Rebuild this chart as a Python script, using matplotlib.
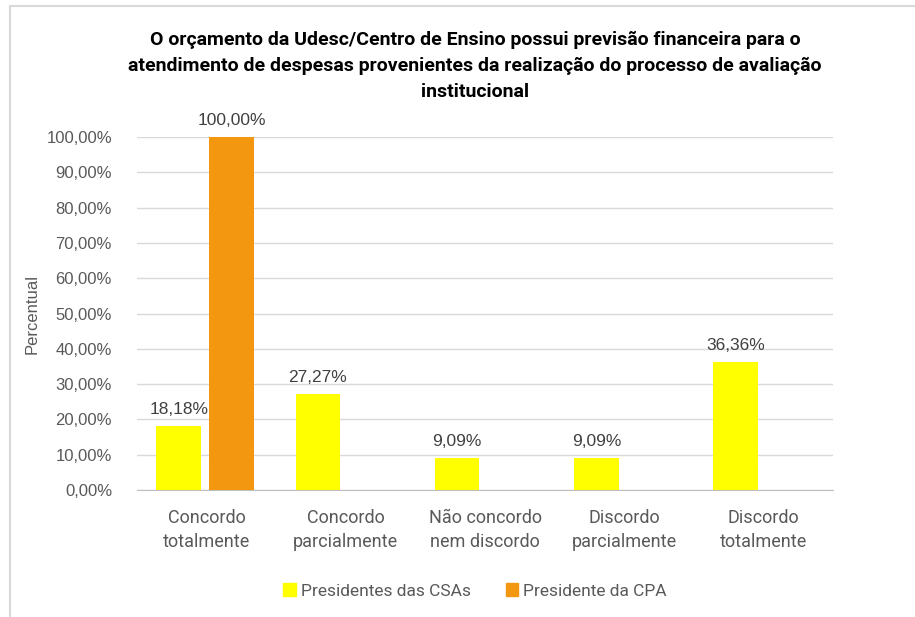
import matplotlib.pyplot as plt
import numpy as np
from matplotlib.patches import Patch
from matplotlib.lines import Line2D

categories = ['Concordo\ntotalmente', 'Concordo\nparcialmente', 'Não concordo\nnem discordo',
              'Discordo\nparcialmente', 'Discordo\ntotalmente']
csas = [18.18, 27.27, 9.09, 9.09, 36.36]
cpa = [100.00, 0, 0, 0, 0]
series_names = ['Presidentes das CSAs', 'Presidente da CPA']

narrow = ['Roboto', 'DejaVu Sans']
regular = ['Liberation Sans', 'DejaVu Sans']
grey = '#595959'

fig = plt.figure(figsize=(9.15, 6.17), dpi=100)
ax = fig.add_axes([137 / 915, 1 - 490 / 617, (833 - 137) / 915, (490 - 137) / 617])

x = np.arange(len(categories))
w = 0.32
b1 = ax.bar(x - 0.2, csas, w, color='#ffff00', zorder=3)
b2 = ax.bar(x + 0.18, cpa, w, color='#f39711', zorder=3)

def fmt(v):
    return f'{v:.2f}%'.replace('.', ',')

for rect, v in zip(b1, csas):
    ax.text(rect.get_x() + rect.get_width() / 2, v + 2.5, fmt(v), ha='center', va='bottom',
            fontsize=12.5, color='#404040', family=regular)
for rect, v in zip(b2, cpa):
    if v > 0:
        ax.text(rect.get_x() + rect.get_width() / 2, v + 2.5, fmt(v), ha='center', va='bottom',
                fontsize=12.5, color='#404040', family=regular)

ax.set_xlim(-0.5, len(categories) - 0.5)
ax.set_ylim(0, 100)
ax.set_yticks(np.arange(0, 101, 10))
ax.set_yticklabels([fmt(t) for t in np.arange(0, 101, 10)], family=regular, fontsize=12, color=grey)
ax.set_xticks(x)
ax.set_xticklabels(categories, family=narrow, fontsize=13, color=grey, linespacing=1.4)
ax.tick_params(axis='both', length=0)
ax.tick_params(axis='y', pad=18)
ax.tick_params(axis='x', pad=14)
ax.grid(axis='y', color='#d9d9d9', linewidth=1, zorder=0)
for s in ['top', 'right', 'left']:
    ax.spines[s].set_visible(False)
ax.spines['bottom'].set_color('#bfbfbf')

ax.set_ylabel('Percentual', family=regular, fontsize=12, color=grey)
ax.yaxis.set_label_coords(-0.14, 0.5)

fig.text(475 / 915, 1 - 66 / 617,
         'O orçamento da Udesc/Centro de Ensino possui previsão financeira para o\n'
         'atendimento de despesas provenientes da realização do processo de avaliação\n'
         'institucional', ha='center', va='center', fontsize=14, fontweight='bold',
         family=narrow, color='black', linespacing=1.55)

handles = [Patch(color='#ffff00'), Patch(color='#f39711')]
fig.legend(handles, series_names, loc='center', bbox_to_anchor=(475 / 915, 1 - 591 / 617),
           ncol=2, frameon=False, handlelength=0.7, handleheight=0.7, handletextpad=0.3,
           columnspacing=2.0, prop={'family': narrow, 'size': 12.5}, labelcolor=grey)

fig.add_artist(Line2D([10 / 915, 1], [1 - 6 / 617, 1 - 6 / 617], color='#d9d9d9', linewidth=1.5))
fig.add_artist(Line2D([10 / 915, 10 / 915], [0, 1 - 6 / 617], color='#d9d9d9', linewidth=1.5))

fig.savefig('out.png', dpi=100)
